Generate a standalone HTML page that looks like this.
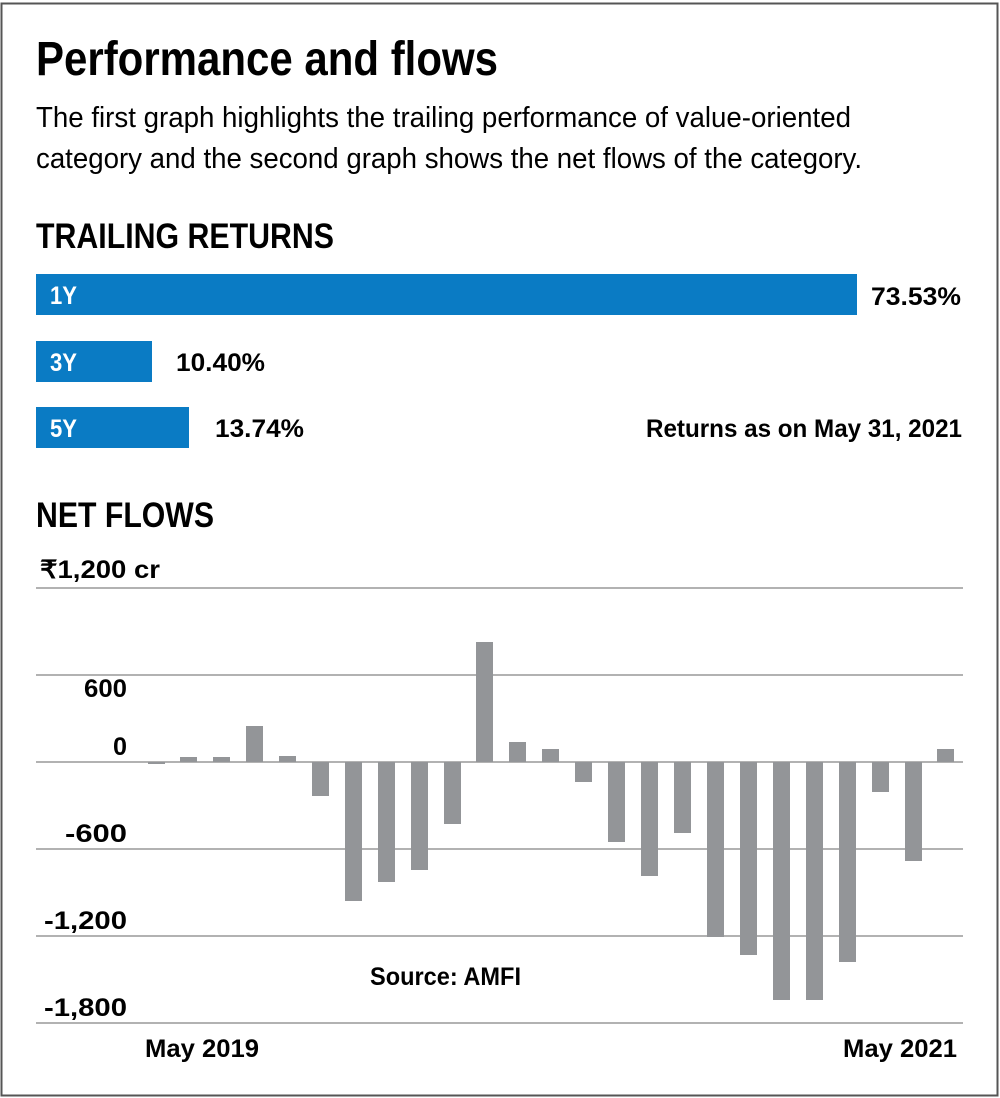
<!DOCTYPE html>
<html><head><meta charset="utf-8"><style>
html,body{margin:0;padding:0;background:#fff}
svg{display:block}
text{font-family:"Liberation Sans Narrow","Liberation Sans",sans-serif}
</style></head><body>
<svg width="1000" height="1098" viewBox="0 0 1000 1098" xmlns="http://www.w3.org/2000/svg">
<rect x="1.5" y="3.5" width="996" height="1092" fill="#fff" stroke="#555" stroke-width="2"/>
<text x="36" y="75" font-size="48" font-weight="bold" textLength="462" lengthAdjust="spacingAndGlyphs">Performance and flows</text>
<text x="36" y="127" font-size="29" textLength="815" lengthAdjust="spacingAndGlyphs">The first graph highlights the trailing performance of value-oriented</text>
<text x="36" y="168" font-size="29" textLength="826" lengthAdjust="spacingAndGlyphs">category and the second graph shows the net flows of the category.</text>
<text x="36" y="248" font-size="35" font-weight="bold" textLength="298" lengthAdjust="spacingAndGlyphs">TRAILING RETURNS</text>
<rect x="36" y="274" width="821" height="41" fill="#0a7bc4"/>
<rect x="36" y="341" width="116" height="41" fill="#0a7bc4"/>
<rect x="36" y="407" width="153" height="41" fill="#0a7bc4"/>
<g font-size="25" font-weight="bold">
<text x="50" y="304" fill="#fff" textLength="27" lengthAdjust="spacingAndGlyphs">1Y</text>
<text x="50" y="371" fill="#fff" textLength="27" lengthAdjust="spacingAndGlyphs">3Y</text>
<text x="50" y="437" fill="#fff" textLength="27" lengthAdjust="spacingAndGlyphs">5Y</text>
<text x="871" y="305" textLength="90" lengthAdjust="spacingAndGlyphs">73.53%</text>
<text x="176" y="371" textLength="89" lengthAdjust="spacingAndGlyphs">10.40%</text>
<text x="215" y="437" textLength="89" lengthAdjust="spacingAndGlyphs">13.74%</text>
<text x="646" y="437" textLength="316" lengthAdjust="spacingAndGlyphs">Returns as on May 31, 2021</text>
</g>
<text x="36" y="527" font-size="35" font-weight="bold" textLength="178" lengthAdjust="spacingAndGlyphs">NET FLOWS</text>
<g stroke="#999" stroke-width="1.5">
<line x1="36" y1="588" x2="963" y2="588"/>
<line x1="36" y1="675" x2="963" y2="675"/>
<line x1="36" y1="762" x2="963" y2="762"/>
<line x1="36" y1="849" x2="963" y2="849"/>
<line x1="36" y1="936" x2="963" y2="936"/>
<line x1="36" y1="1023" x2="963" y2="1023"/>
</g>
<g font-size="25" font-weight="bold">
<text x="40" y="578" textLength="120" lengthAdjust="spacingAndGlyphs">₹1,200  cr</text>
<text x="84" y="697" textLength="43" lengthAdjust="spacingAndGlyphs">600</text>
<text x="113" y="755" textLength="14" lengthAdjust="spacingAndGlyphs">0</text>
<text x="65" y="842" textLength="62" lengthAdjust="spacingAndGlyphs">-600</text>
<text x="44" y="929" textLength="83" lengthAdjust="spacingAndGlyphs">-1,200</text>
<text x="44" y="1016" textLength="83" lengthAdjust="spacingAndGlyphs">-1,800</text>
<text x="145" y="1057" textLength="114" lengthAdjust="spacingAndGlyphs">May 2019</text>
<text x="843" y="1057" textLength="114" lengthAdjust="spacingAndGlyphs">May 2021</text>
<text x="370" y="985" textLength="151" lengthAdjust="spacingAndGlyphs">Source: AMFI</text>
</g>
<g fill="#939598">
<rect x="148" y="762" width="17" height="2"/>
<rect x="180" y="757" width="17" height="5"/>
<rect x="213" y="757" width="17" height="5"/>
<rect x="246" y="726" width="17" height="36"/>
<rect x="279" y="756" width="17" height="6"/>
<rect x="312" y="762" width="17" height="34"/>
<rect x="345" y="762" width="17" height="139"/>
<rect x="378" y="762" width="17" height="120"/>
<rect x="411" y="762" width="17" height="108"/>
<rect x="444" y="762" width="17" height="62"/>
<rect x="476" y="642" width="17" height="120"/>
<rect x="509" y="742" width="17" height="20"/>
<rect x="542" y="749" width="17" height="13"/>
<rect x="575" y="762" width="17" height="20"/>
<rect x="608" y="762" width="17" height="80"/>
<rect x="641" y="762" width="17" height="114"/>
<rect x="674" y="762" width="17" height="71"/>
<rect x="707" y="762" width="17" height="175"/>
<rect x="740" y="762" width="17" height="193"/>
<rect x="773" y="762" width="17" height="238"/>
<rect x="806" y="762" width="17" height="238"/>
<rect x="839" y="762" width="17" height="200"/>
<rect x="872" y="762" width="17" height="30"/>
<rect x="905" y="762" width="17" height="99"/>
<rect x="937" y="749" width="17" height="13"/>
</g>
</svg>
</body></html>
